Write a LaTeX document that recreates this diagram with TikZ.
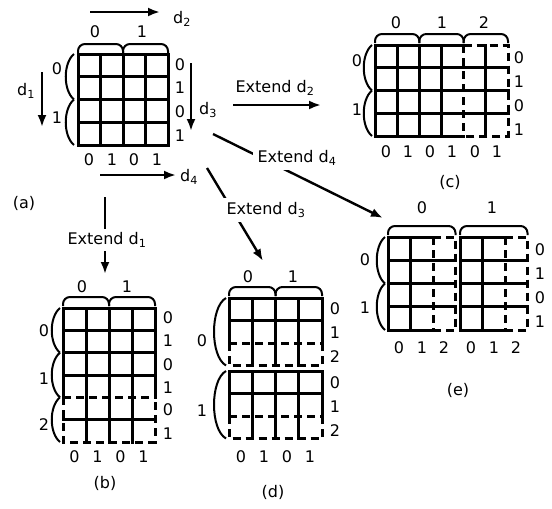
\documentclass[tikz,border=0pt]{standalone}
\usepackage{fontspec}
\setmainfont{DejaVu Sans}
\usetikzlibrary{arrows.meta}
\newcommand\mytopbrace[4]{\draw[br,rounded corners=7pt] (#1,#3) -- (#1,#4) -- (#2,#4) -- (#2,#3);}
\newcommand\myleftbrace[4]{\draw[br] (#1,#2) .. controls (#1-#4,#2+9) and (#1-#4,#3-9) .. (#1,#3);}
\begin{document}
\begin{tikzpicture}[x=1pt,y=-1pt,
  gl/.style={line width=3pt,line cap=rect},
  dl/.style={line width=3pt,dash pattern=on 8pt off 5pt},
  br/.style={line width=2pt},
  lab/.style={font=\fontsize{16}{18}\selectfont,inner sep=1pt},
  arr/.style={line width=2.4pt,-{Latex[length=12pt,width=9pt]}},
  ext/.style={lab,fill=white,inner sep=5pt}]
\useasboundingbox (0,0) rectangle (552,509);

% ---------- panel (a)
\foreach \x in {78,100.5,123,145.5,168} \draw[gl] (\x,54) -- (\x,145);
\foreach \y in {54,76.75,99.5,122.25,145} \draw[gl] (78,\y) -- (168,\y);
\mytopbrace{78}{123}{53}{44}
\mytopbrace{123}{168}{53}{44}
\myleftbrace{74}{54}{99.5}{11}
\myleftbrace{74}{99.5}{145}{11}
\node[lab] (a-t0) at (95,32) {0};
\node[lab] (a-t1) at (142,32) {1};
\node[lab] (a-l0) at (57,69) {0};
\node[lab] (a-l1) at (57,118) {1};
\foreach \y/\t [count=\i] in {65/0,88/1,112/0,136/1} \node[lab] (a-r\i) at (180,\y) {\t};
\foreach \x/\t [count=\i] in {89/0,112/1,134/0,157/1} \node[lab] (a-b\i) at (\x,160) {\t};
\node[lab] (a-cap) at (24,203) {(a)};
\coordinate (d2s) at (90,12); \coordinate (d2e) at (160,12);
\draw[arr] (d2s) -- (d2e);
\node[lab] (d2) at (182,19) {d\textsubscript{2}};
\coordinate (d1s) at (42,72); \coordinate (d1e) at (42,127);
\draw[arr] (d1s) -- (d1e);
\node[lab] (d1) at (26,91) {d\textsubscript{1}};
\coordinate (d3s) at (191,63); \coordinate (d3e) at (191,131);
\draw[arr] (d3s) -- (d3e);
\node[lab] (d3) at (208,110) {d\textsubscript{3}};
\coordinate (d4s) at (100,175); \coordinate (d4e) at (176,175);
\draw[arr] (d4s) -- (d4e);
\node[lab] (d4) at (189,177) {d\textsubscript{4}};

% ---------- extend arrows
\coordinate (x2s) at (233,105); \coordinate (x2e) at (321,105);
\draw[arr] (x2s) -- (x2e);
\node[lab] (x2l) at (275,88) {Extend d\textsubscript{2}};
\coordinate (x4s) at (213,134); \coordinate (x4e) at (383,218);
\draw[arr] (x4s) -- (x4e);
\node[ext] (x4l) at (297,158) {Extend d\textsubscript{4}};
\coordinate (x3s) at (207,168); \coordinate (x3e) at (263,261);
\draw[arr] (x3s) -- (x3e);
\node[ext] (x3l) at (266,210) {Extend d\textsubscript{3}};
\coordinate (x1s) at (105,197); \coordinate (x1e) at (105,274);
\draw[arr] (x1s) -- (x1e);
\node[ext,inner ysep=4pt] (x1l) at (107,240) {Extend d\textsubscript{1}};

% ---------- panel (b)
\foreach \x in {86,109,132} \draw[gl] (\x,308) -- (\x,442);
\foreach \x in {63,155} \draw[gl] (\x,308) -- (\x,397.33);
\foreach \y in {308,330.33,352.67,375,419.67} \draw[gl] (63,\y) -- (155,\y);
\draw[dl] (63,397.33) -- (155,397.33);
\draw[dl] (63,397.33) -- (63,442) -- (155,442) -- (155,397.33);
\mytopbrace{63}{109}{306}{297}
\mytopbrace{109}{155}{306}{297}
\myleftbrace{60}{308}{352.67}{11}
\myleftbrace{60}{352.67}{397.33}{11}
\myleftbrace{60}{397.33}{442}{11}
\node[lab] (b-t0) at (82,287) {0};
\node[lab] (b-t1) at (127,287) {1};
\node[lab] (b-l0) at (44,331) {0};
\node[lab] (b-l1) at (44,379) {1};
\node[lab] (b-l2) at (44,425) {2};
\foreach \y/\t [count=\i] in {318/0,341/1,365/0,388/1,410/0,434/1} \node[lab] (b-r\i) at (168,\y) {\t};
\foreach \x/\t [count=\i] in {74.5/0,97.5/1,120.5/0,143.5/1} \node[lab] (b-b\i) at (\x,457) {\t};
\node[lab] (b-cap) at (105,483) {(b)};

% ---------- panel (c)
\foreach \x in {375,397.17,419.33,441.5,485.83} \draw[gl] (\x,45) -- (\x,136);
\foreach \y in {45,136} \draw[gl] (375,\y) -- (463.67,\y);
\foreach \y in {67.75,90.5,113.25} \draw[gl] (375,\y) -- (508,\y);
\draw[dl] (463.67,45) -- (463.67,136);
\draw[dl] (463.67,45) -- (508,45) -- (508,136) -- (463.67,136);
\mytopbrace{375}{419.33}{43}{34}
\mytopbrace{419.33}{463.67}{43}{34}
\mytopbrace{463.67}{508}{43}{34}
\myleftbrace{372}{45}{90.5}{11}
\myleftbrace{372}{90.5}{136}{11}
\node[lab] (c-t0) at (396,23) {0};
\node[lab] (c-t1) at (442,23) {1};
\node[lab] (c-t2) at (484,23) {2};
\node[lab] (c-l0) at (357,61) {0};
\node[lab] (c-l1) at (357,110) {1};
\foreach \y/\t [count=\i] in {58/0,82/1,106/0,130/1} \node[lab] (c-r\i) at (519,\y) {\t};
\foreach \x/\t [count=\i] in {386/0,408/1,430/0,452/1,475/0,497/1} \node[lab] (c-b\i) at (\x,152) {\t};
\node[lab] (c-cap) at (450,182) {(c)};

% ---------- panel (d)
\foreach \yo in {298,371} {
  \foreach \x in {252.25,275.5,298.75} \draw[gl] (\x,\yo) -- (\x,\yo+67.5);
  \foreach \x in {229,322} \draw[gl] (\x,\yo) -- (\x,\yo+45);
  \foreach \y in {0,22.5} \draw[gl] (229,\yo+\y) -- (322,\yo+\y);
  \draw[dl] (229,\yo+45) -- (322,\yo+45);
  \draw[dl] (229,\yo+45) -- (229,\yo+67.5) -- (322,\yo+67.5) -- (322,\yo+45);
}
\mytopbrace{229}{275.5}{296}{287}
\mytopbrace{275.5}{322}{296}{287}
\myleftbrace{226}{298}{365.5}{16}
\myleftbrace{226}{371}{438.5}{16}
\node[lab] (d-t0) at (248,277) {0};
\node[lab] (d-t1) at (293,277) {1};
\node[lab] (d-l0) at (202,341) {0};
\node[lab] (d-l1) at (202,411) {1};
\foreach \y/\t [count=\i] in {309/0,333/1,357/2,383/0,407/1,431/2} \node[lab] (d-r\i) at (335,\y) {\t};
\foreach \x/\t [count=\i] in {241/0,264/1,287/0,310/1} \node[lab] (d-b\i) at (\x,457) {\t};
\node[lab] (d-cap) at (273,492) {(d)};

% ---------- panel (e)
\foreach \xo in {388,460} {
  \foreach \i in {0,1} \draw[gl] (\xo+22.5*\i,237) -- (\xo+22.5*\i,330);
  \foreach \y in {237,330} \draw[gl] (\xo,\y) -- (\xo+45,\y);
  \foreach \y in {260.25,283.5,306.75} \draw[gl] (\xo,\y) -- (\xo+67.5,\y);
  \draw[dl] (\xo+45,237) -- (\xo+45,330);
  \draw[dl] (\xo+45,237) -- (\xo+67.5,237) -- (\xo+67.5,330) -- (\xo+45,330);
}
\mytopbrace{388}{455.5}{235}{226}
\mytopbrace{460}{527.5}{235}{226}
\myleftbrace{385}{237}{283.5}{11}
\myleftbrace{385}{283.5}{330}{11}
\node[lab] (e-t0) at (422,208) {0};
\node[lab] (e-t1) at (492,208) {1};
\node[lab] (e-l0) at (365,260) {0};
\node[lab] (e-l1) at (365,308) {1};
\foreach \y/\t [count=\i] in {250/0,274/1,298/0,322/1} \node[lab] (e-r\i) at (540,\y) {\t};
\foreach \x/\t [count=\i] in {399/0,422/1,444/2,471/0,494/1,516/2} \node[lab] (e-b\i) at (\x,348) {\t};
\node[lab] (e-cap) at (458,390) {(e)};
\end{tikzpicture}
\end{document}
